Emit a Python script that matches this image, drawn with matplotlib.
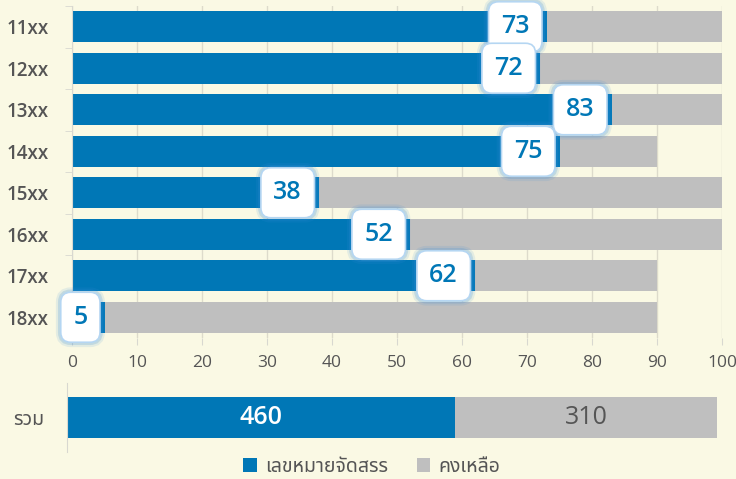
import matplotlib
matplotlib.use("Agg")
import matplotlib.pyplot as plt
import numpy as np

categories = ["11xx", "12xx", "13xx", "14xx", "15xx", "16xx", "17xx", "18xx"]
allocated = [73, 72, 83, 75, 38, 52, 62, 5]
capacity = [100, 100, 100, 90, 100, 100, 90, 90]
x_ticks = [0, 10, 20, 30, 40, 50, 60, 70, 80, 90, 100]
total_label = "รวม"
total_allocated = 460
total_remaining = 310
legend_labels = ["เลขหมายจัดสรร", "คงเหลือ"]

BLUE = "#0077B6"
GRAY = "#BFBFBF"
BG = "#FAF9E4"
TXT = "#555555"
NUM_FONT = ["Open Sans", "Noto Sans", "DejaVu Sans"]

plt.rcParams["font.family"] = ["Noto Sans Thai", "Noto Sans Thai Looped", "Loma", "Garuda",
                               "Kanit", "Prompt", "Sarabun", "Waree", "DejaVu Sans"]

fig = plt.figure(figsize=(7.36, 4.79), dpi=100, facecolor=BG)

# main chart
ax = fig.add_axes([72 / 736, 1 - 338 / 479, 650 / 736, 332 / 479], facecolor=BG)
y = np.arange(len(categories))
ax.barh(y, capacity, height=0.75, color=GRAY, zorder=2)
ax.barh(y, allocated, height=0.75, color=BLUE, zorder=2)
ax.set_xlim(0, 100)
ax.set_ylim(len(categories) - 0.5, -0.5)
ax.set_xticks(x_ticks)
ax.set_xticklabels([str(t) for t in x_ticks], family=NUM_FONT)
ax.set_yticks(y)
ax.set_yticklabels(categories, family=NUM_FONT, fontweight="semibold")
ax.set_yticks(np.arange(len(categories) + 1) - 0.5, minor=True)
ax.tick_params(axis="y", which="major", length=0, pad=17, labelsize=13.5, labelcolor=TXT)
ax.tick_params(axis="y", which="minor", length=5, color="#D8D8D0")
ax.tick_params(axis="x", length=5, color="#D8D8D0", pad=7, labelsize=12.5, labelcolor=TXT)
ax.grid(axis="x", color="#DDDBCB", linewidth=1, zorder=0)
for s in ["top", "right", "bottom"]:
    ax.spines[s].set_visible(False)
ax.spines["left"].set_color("#D8D8D0")

box_style = "round,pad=0.5,rounding_size=0.4"
for i, v in enumerate(allocated):
    # soft glow behind the label box
    for lw, a in [(7, 0.12), (4, 0.2)]:
        ax.annotate(str(v), xy=(v, i), xytext=(-17, 0), textcoords="offset pixels",
                    ha="right", va="center", fontsize=18, fontweight="semibold",
                    family=NUM_FONT, color="none",
                    bbox=dict(boxstyle=box_style, fc="none", ec="#3D8FDB", lw=lw, alpha=a),
                    zorder=4)
    ax.annotate(str(v), xy=(v, i), xytext=(-17, 0), textcoords="offset pixels",
                ha="right", va="center", fontsize=18, fontweight="semibold",
                family=NUM_FONT, color=BLUE,
                bbox=dict(boxstyle=box_style, fc="white", ec="#B5D6F2", lw=1.2), zorder=5)

# total bar
ax2 = fig.add_axes([67 / 736, 1 - 452 / 479, 650 / 736, 69 / 479], facecolor=BG)
total = total_allocated + total_remaining
b1 = ax2.barh([0], [total_allocated], height=0.6, color=BLUE, label=legend_labels[0])
b2 = ax2.barh([0], [total_remaining], left=[total_allocated], height=0.6, color=GRAY,
              label=legend_labels[1])
ax2.set_xlim(0, total)
ax2.set_ylim(-0.5, 0.5)
ax2.set_xticks([])
ax2.set_yticks([0])
ax2.set_yticklabels([total_label])
ax2.tick_params(axis="y", length=0, pad=16, labelsize=14, labelcolor=TXT)
for s in ["top", "right", "bottom"]:
    ax2.spines[s].set_visible(False)
ax2.spines["left"].set_color("#D8D8D0")
ax2.text(total_allocated / 2, 0, str(total_allocated), ha="center", va="center",
         fontsize=18, color="white", fontweight="semibold", family=NUM_FONT)
ax2.text(total_allocated + total_remaining / 2, 0, str(total_remaining), ha="center",
         va="center", fontsize=18, color=TXT, family=NUM_FONT)

fig.legend(handles=[b1, b2], labels=legend_labels, loc="center",
           bbox_to_anchor=(0.505, 1 - 467 / 479), ncol=2, frameon=False,
           fontsize=14, labelcolor=TXT, handlelength=0.7, handleheight=0.7,
           handletextpad=0.4, columnspacing=1.5, borderpad=0.1)

fig.savefig("out.png", dpi=100, facecolor=BG)
